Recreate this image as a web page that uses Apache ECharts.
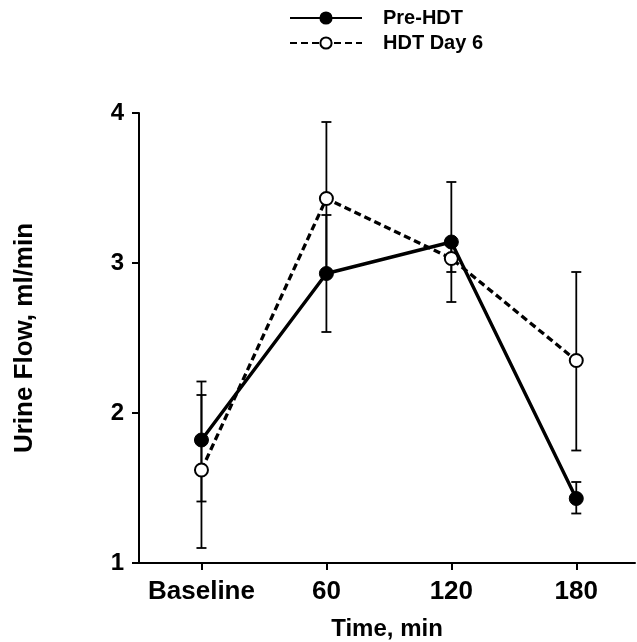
<!DOCTYPE html>
<html>
<head>
<meta charset="utf-8">
<script src="https://cdn.jsdelivr.net/npm/echarts@6/dist/echarts.min.js"></script>
<style>html,body{margin:0;padding:0;background:#fff}#c{width:637px;height:642px}</style>
</head>
<body>
<div id="c"></div>
<script>
var categories = ['Baseline', '60', '120', '180'];
var preMean = [1.82, 2.93, 3.14, 1.43];
var preLow  = [1.41, 2.54, 2.74, 1.33];
var preHigh = [2.21, 3.32, 3.54, 1.54];
var hdtMean = [1.62, 3.43, 3.03, 2.35];
var hdtLow  = [1.10, 2.94, 2.94, 1.75];
var hdtHigh = [2.12, 3.94, 3.12, 2.94];
var yTicks = [1, 2, 3, 4];

var F = '"Liberation Sans", Arial, Helvetica, sans-serif';
function pts(arr){ return arr.map(function(v,i){ return [i, v]; }); }
function bars(lo, hi){ return lo.map(function(v,i){ return [i, v, hi[i]]; }); }
function errRender(params, api){
  var x = api.value(0);
  var a = api.coord([x, api.value(1)]);
  var b = api.coord([x, api.value(2)]);
  var w = 5;
  var st = {stroke:'#000', lineWidth:1.8};
  return {type:'group', children:[
    {type:'line', shape:{x1:a[0],y1:a[1],x2:b[0],y2:b[1]}, style:st},
    {type:'line', shape:{x1:a[0]-w,y1:a[1],x2:a[0]+w,y2:a[1]}, style:st},
    {type:'line', shape:{x1:b[0]-w,y1:b[1],x2:b[0]+w,y2:b[1]}, style:st}
  ]};
}
var chart = echarts.init(document.getElementById('c'));
chart.setOption({
  animation:false,
  backgroundColor:'#fff',
  textStyle:{fontFamily:F},
  grid:{left:139, right:2, top:113, bottom:79, containLabel:false, outerBoundsMode:'none'},
  legend:{
    orient:'vertical', left:289, top:8, itemGap:5, padding:0,
    itemWidth:72, itemHeight:14,
    textStyle:{fontFamily:F, fontWeight:'bold', fontSize:20, lineHeight:20, color:'#000', padding:[0,0,0,16]},
    data:['Pre-HDT','HDT Day 6']
  },
  xAxis:{
    type:'value', min:-0.5, max:3.47,
    name:'Time, min', nameLocation:'middle', nameGap:54,
    nameTextStyle:{fontFamily:F, fontWeight:'bold', fontSize:24, color:'#000'},
    axisLine:{show:true, onZero:false, lineStyle:{color:'#000', width:2}},
    axisTick:{show:true, length:7, customValues:[0,1,2,3], lineStyle:{color:'#000', width:2}},
    axisLabel:{customValues:[0,1,2,3], margin:16, fontFamily:F, fontWeight:'bold', fontSize:26, color:'#000',
      formatter:function(v){ return categories[Math.round(v)]; }},
    splitLine:{show:false}
  },
  yAxis:{
    type:'value', min:1, max:4, interval:1,
    name:'Urine Flow, ml/min', nameLocation:'middle', nameGap:101, nameRotate:90,
    nameTextStyle:{fontFamily:F, fontWeight:'bold', fontSize:26, color:'#000'},
    axisLine:{show:true, onZero:false, lineStyle:{color:'#000', width:2}},
    axisTick:{show:true, length:7, lineStyle:{color:'#000', width:2}},
    axisLabel:{margin:15, fontFamily:F, fontWeight:'bold', fontSize:24, color:'#000',
      formatter:function(v){ return yTicks.indexOf(v) >= 0 ? String(v) : ''; }},
    splitLine:{show:false}
  },
  series:[
    {type:'custom', name:'errPre', renderItem:errRender, data:bars(preLow, preHigh), z:1, silent:true},
    {type:'custom', name:'errHdt', renderItem:errRender, data:bars(hdtLow, hdtHigh), z:1, silent:true},
    {type:'line', name:'HDT Day 6', data:pts(hdtMean), z:3,
      symbol:'circle', symbolSize:13,
      lineStyle:{color:'#000', width:3.3, type:[7,4]},
      itemStyle:{color:'#fff', borderColor:'#000', borderWidth:2}},
    {type:'line', name:'Pre-HDT', data:pts(preMean), z:4,
      symbol:'circle', symbolSize:14,
      lineStyle:{color:'#000', width:3.4},
      itemStyle:{color:'#000', borderColor:'#000', borderWidth:1}}
  ]
});
</script>
</body>
</html>
